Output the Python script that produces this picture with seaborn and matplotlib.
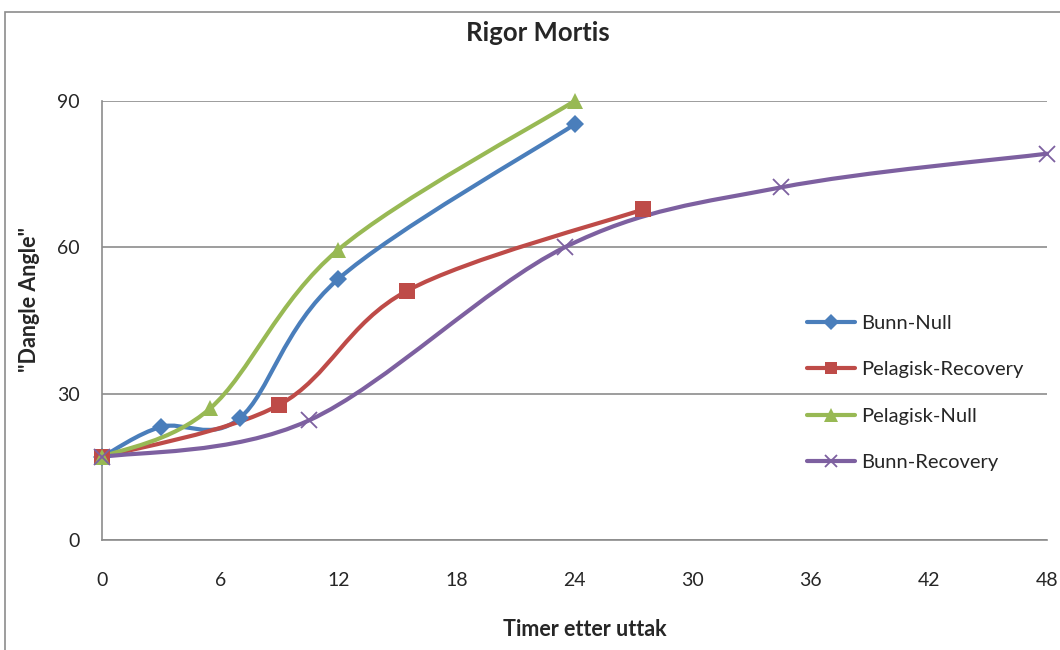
import numpy as np
import pandas as pd
import seaborn as sns
import matplotlib.pyplot as plt
from matplotlib.path import Path
from matplotlib.patches import PathPatch, Rectangle
from matplotlib.lines import Line2D

# values
series = ['Bunn-Null', 'Pelagisk-Recovery', 'Pelagisk-Null', 'Bunn-Recovery']
bunn_null_x = [0, 3, 7, 12, 24]
bunn_null_y = [17, 23.2, 25, 53.5, 85.2]
pel_rec_x = [0, 9, 15.5, 27.5]
pel_rec_y = [17, 27.7, 51.1, 67.8]
pel_null_x = [0, 5.5, 12, 24]
pel_null_y = [17, 27, 59.5, 90]
bunn_rec_x = [0, 10.5, 23.5, 34.5, 48]
bunn_rec_y = [17, 24.5, 60, 72.3, 79.2]

xticks = [0, 6, 12, 18, 24, 30, 36, 42, 48]
yticks = [0, 30, 60, 90]

colors = ['#4A7EBB', '#BE4B48', '#98B954', '#7D60A0']
markers = ['D', 's', '^', 'x']
msizes = [9, 11, 12, 11]

sns.set_style('white')
plt.rcParams['font.family'] = ['Lato', 'DejaVu Sans']

df = pd.concat([
    pd.DataFrame({'t': x, 'angle': y, 'series': s})
    for s, x, y in zip(series,
                       [bunn_null_x, pel_rec_x, pel_null_x, bunn_rec_x],
                       [bunn_null_y, pel_rec_y, pel_null_y, bunn_rec_y])
])


def smooth_path(xs, ys):
    # excel-like smoothed line: cubic bezier through the points
    p = np.column_stack([xs, ys]).astype(float)
    verts = [p[0]]
    codes = [Path.MOVETO]
    n = len(p)
    for i in range(n - 1):
        p0 = p[i - 1] if i > 0 else p[i]
        p3 = p[i + 2] if i + 2 < n else p[i + 1]
        c1 = p[i] + (p[i + 1] - p0) / 6
        c2 = p[i + 1] - (p3 - p[i]) / 6
        verts += [c1, c2, p[i + 1]]
        codes += [Path.CURVE4] * 3
    return Path(verts, codes)


fig = plt.figure(figsize=(10.6, 6.5), dpi=100)
ax = fig.add_axes([102 / 1060, 1 - 540 / 650, 945 / 1060, 439 / 650])

handles = []
for s, c, m, ms in zip(series, colors, markers, msizes):
    d = df[df.series == s]
    ax.add_patch(PathPatch(smooth_path(d.t, d.angle), fill=False, edgecolor=c,
                           lw=3, capstyle='round', joinstyle='round', clip_on=False, zorder=3))
    mew = 1.3 if m == 'x' else 0
    ax.plot(d.t, d.angle, ls='none', marker=m, ms=ms, color=c, mew=mew,
            clip_on=False, zorder=4)
    handles.append(Line2D([], [], color=c, lw=3, marker=m, ms=ms * 0.85, mew=mew))

ax.set_xlim(0, 48)
ax.set_ylim(0, 90)
ax.set_xticks(xticks)
ax.set_yticks(yticks)
ax.tick_params(axis='x', length=0, pad=23, labelsize=14)
ax.tick_params(axis='y', length=0, pad=16, labelsize=14)
ax.yaxis.grid(True, color='#8c8c8c', lw=1.2)
ax.xaxis.grid(False)
for side in ['top', 'right']:
    ax.spines[side].set_visible(False)
for side in ['left', 'bottom']:
    ax.spines[side].set_color('#8c8c8c')
    ax.spines[side].set_linewidth(1.2)

fig.legend(handles, series, loc='center left', bbox_to_anchor=(807 / 1060, 1 - 393 / 650),
           frameon=False, fontsize=14.5, handlelength=2.4, handletextpad=0.3,
           labelspacing=1.45, borderpad=0, borderaxespad=0)

fig.text(538 / 1060, 1 - 33 / 650, 'Rigor Mortis', ha='center', va='center',
         fontsize=18.5, fontweight='bold')
fig.text(585 / 1060, 1 - 629 / 650, 'Timer etter uttak', ha='center', va='center',
         fontsize=15.5, fontweight='bold')
fig.text(29 / 1060, 1 - 299 / 650, '"Dangle Angle"', ha='center', va='center',
         rotation=90, fontsize=15.5, fontweight='bold')

# chart area border
fig.patches.append(Rectangle((5 / 1060, -0.1), 1.1, 1 - 12 / 650 + 0.1,
                             transform=fig.transFigure, fill=False,
                             edgecolor='#8c8c8c', lw=1.2))

fig.savefig('out.png', dpi=100)
